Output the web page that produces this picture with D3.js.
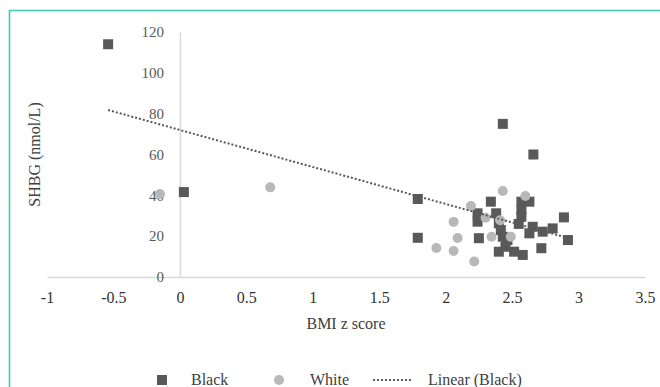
<!DOCTYPE html>
<html><head><meta charset="utf-8">
<script src="https://cdn.jsdelivr.net/npm/d3@7"></script>
<style>body{margin:0;background:#fff}svg{display:block}</style>
</head><body>
<svg id="c" width="660" height="387"></svg>
<script>
const blackX = [-0.54,0.03,1.79,1.79,2.43,2.66,2.34,2.24,2.24,2.38,2.40,2.415,2.25,2.40,2.45,2.515,2.58,2.43,2.57,2.63,2.57,2.57,2.55,2.655,2.63,2.73,2.805,2.89,2.92,2.72,2.465];
const blackY = [114,41.6,38.2,19.2,75,60,36.9,31.2,27.1,31.2,26.3,23.0,19.0,12.4,14.8,12.4,10.8,19.7,36.9,36.9,32.8,29.5,26,24.6,21.4,22.2,23.8,29.2,18.1,14.1,18.1];
const whiteX = [-0.15,0.68,2.43,2.60,2.19,2.30,2.41,2.06,2.09,2.345,2.49,1.93,2.06,2.215];
const whiteY = [40.6,43.9,42.1,39.7,34.8,29.0,27.8,27.0,19.1,19.7,19.7,14.2,12.7,7.6];
const trendX = [-0.54, 2.92];
const trendY = [81.8, 19.1];
const xTicks = [-1,-0.5,0,0.5,1,1.5,2,2.5,3,3.5];
const yTicks = [0,20,40,60,80,100,120];
const legendLabels = ["Black","White","Linear (Black)"];
const xTitle = "BMI z score", yTitle = "SHBG (nmol/L)";

const svg = d3.select("#c");
const font = "'Liberation Serif','Times New Roman',serif";
// frame
svg.append("path").attr("d","M9.5,387 V10.5 H660").attr("fill","none").attr("stroke","#3fcbb6").attr("stroke-width",1.6);

const x = d3.scaleLinear().domain([-1,3.5]).range([47,645]);
const y = d3.scaleLinear().domain([0,120]).range([277,32]);

const gx = svg.append("g").attr("transform",`translate(0,${y(0)})`)
  .call(d3.axisBottom(x).tickValues(xTicks).tickSize(0).tickPadding(15).tickFormat(d=>String(d)));
const gy = svg.append("g").attr("transform",`translate(${x(0)},0)`)
  .call(d3.axisLeft(y).tickValues(yTicks).tickSize(0).tickPadding(16).tickFormat(d=>String(d)));
[gx,gy].forEach(g=>{
  g.select(".domain").attr("stroke","#d9d9d9").attr("stroke-width",1.5);
  g.selectAll("text").attr("font-family",font);
});
gx.selectAll("text").attr("fill","#333333").attr("font-size",16);
gy.selectAll("text").attr("fill","#595959").attr("font-size",15);

svg.append("text").attr("x",(x.range()[0]+x.range()[1])/2).attr("y",329).attr("text-anchor","middle")
  .attr("font-family",font).attr("font-size",16).attr("fill","#404040").text(xTitle);
svg.append("text").attr("transform",`translate(40,${(y.range()[0]+y.range()[1])/2}) rotate(-90)`).attr("text-anchor","middle")
  .attr("font-family",font).attr("font-size",16).attr("fill","#404040").text(yTitle);

const s = 10;
const blackData = blackX.map((v,i)=>[v,blackY[i]]);
const whiteData = whiteX.map((v,i)=>[v,whiteY[i]]);
svg.append("g").selectAll("rect").data(blackData).join("rect")
  .attr("x",d=>x(d[0])-s/2).attr("y",d=>y(d[1])-s/2).attr("width",s).attr("height",s).attr("fill","#595959");
svg.append("g").selectAll("circle").data(whiteData).join("circle")
  .attr("cx",d=>x(d[0])).attr("cy",d=>y(d[1])).attr("r",5).attr("fill","#b8b8b8");
svg.append("line").attr("x1",x(trendX[0])).attr("y1",y(trendY[0])).attr("x2",x(trendX[1])).attr("y2",y(trendY[1]))
  .attr("stroke","#595959").attr("stroke-width",2).attr("stroke-dasharray","2,2");

// legend
const ly = 380;
const lg = svg.append("g").attr("font-family",font).attr("font-size",16).attr("fill","#404040");
lg.append("rect").attr("x",157).attr("y",ly-5).attr("width",s).attr("height",s).attr("fill","#595959");
lg.append("text").attr("x",191).attr("y",ly+5).text(legendLabels[0]);
lg.append("circle").attr("cx",279).attr("cy",ly).attr("r",5).attr("fill","#b8b8b8");
lg.append("text").attr("x",310).attr("y",ly+5).text(legendLabels[1]);
lg.append("line").attr("x1",373).attr("x2",413).attr("y1",ly).attr("y2",ly).attr("stroke","#595959").attr("stroke-width",2).attr("stroke-dasharray","2,2");
lg.append("text").attr("x",428).attr("y",ly+5).text(legendLabels[2]);
</script>
</body></html>
